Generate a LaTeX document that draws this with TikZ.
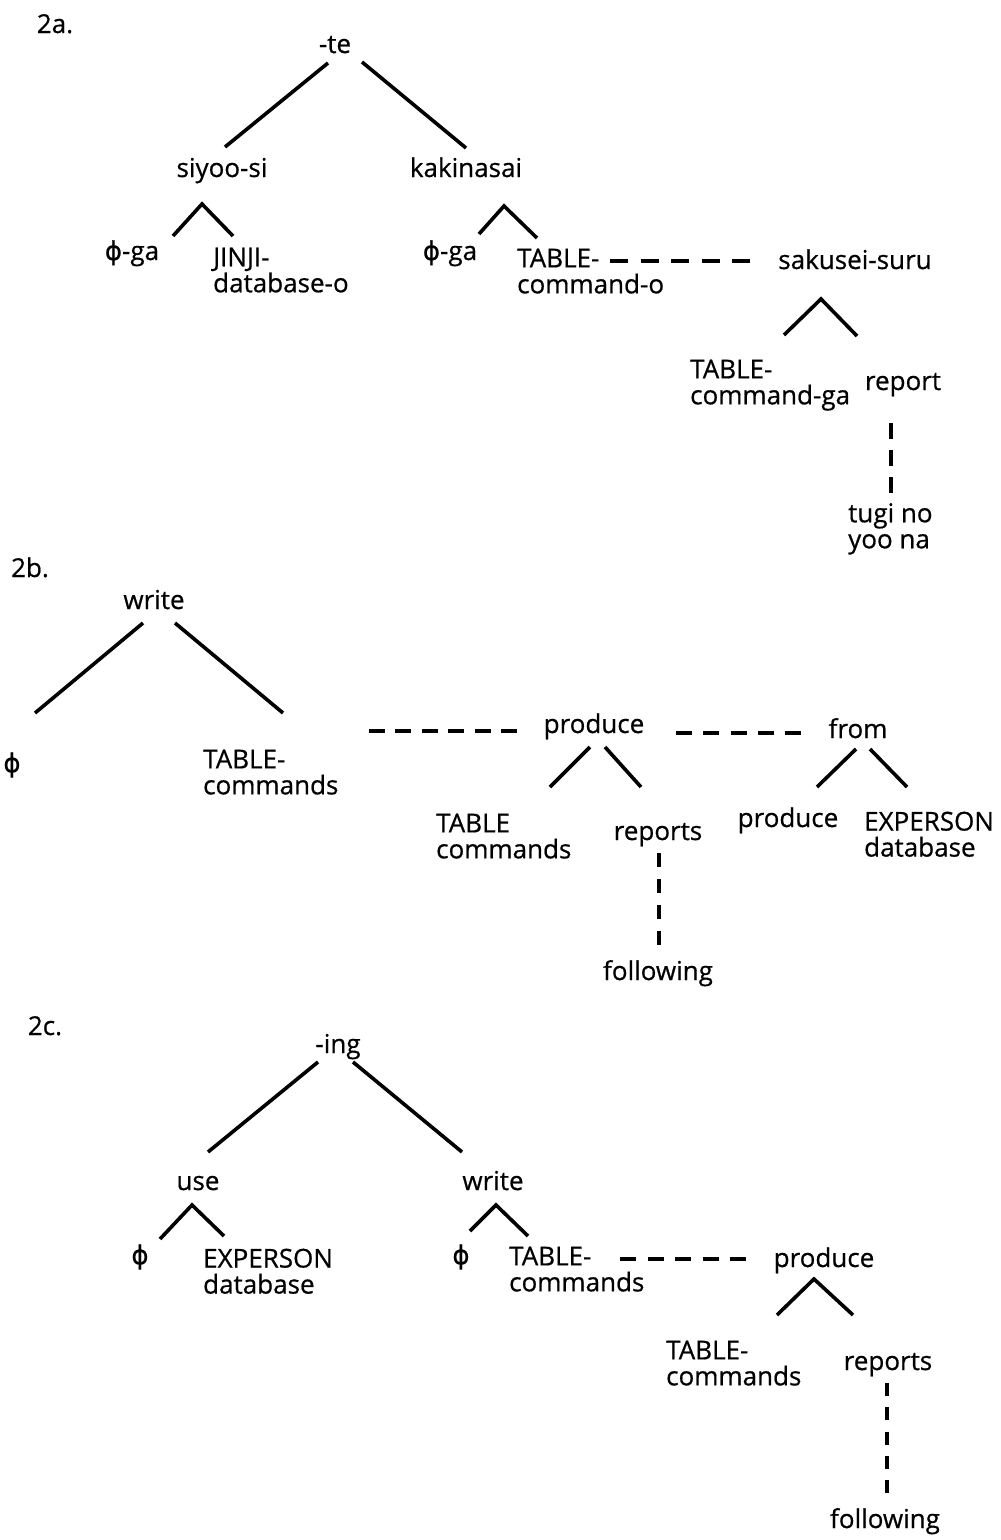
\documentclass[tikz,border=0pt]{standalone}
\usepackage{fontspec}
\setmainfont{Open Sans}[FakeBold=0.6]
\newfontfamily\phifont{DejaVu Sans}[FakeBold=0.6]
\newcommand{\phisym}{{\phifont ϕ}}
\begin{document}
\begin{tikzpicture}[x=1pt,y=-1pt,
  lbl/.style={inner sep=0pt, font=\fontsize{26}{26}\selectfont, anchor=base},
  phil/.style={inner sep=0pt, font=\fontsize{26}{26}\selectfont, anchor=center},
  mlbl/.style={inner sep=0pt, font=\fontsize{26}{26}\selectfont, align=left, anchor=north west},
  branch/.style={line width=3.6pt, line cap=butt},
  hdash/.style={line width=3.6pt},
  vdash/.style={line width=3.6pt}]
\useasboundingbox (0,0) rectangle (1001,1540);

% ---------- 2a ----------
\node[lbl] (lab2a) at (55,33) {2a.};
\node[lbl] (te) at (335,53) {-te};
\node[lbl] (siyoo) at (222,177) {siyoo-si};
\node[lbl] (kaki) at (466,177) {kakinasai};
\node[lbl] (gaA) at (132,260) {\phisym-ga};
\node[mlbl] (jinji) at (213,247.5) {JINJI-\\database-o};
\node[lbl] (gaB) at (450,260) {\phisym-ga};
\node[mlbl] (tcmdo) at (517,248.5) {TABLE-\\command-o};
\node[lbl] (sakusei) at (855,269) {sakusei-suru};
\node[mlbl] (tcmdga) at (690,359.5) {TABLE-\\command-ga};
\node[lbl] (report) at (903,390) {report};
\node[mlbl] (tugi) at (848,503) {tugi no\\yoo na};

\coordinate (te-l) at (328,63);   \coordinate (siyoo-t) at (225,147);
\coordinate (te-r) at (362,62);   \coordinate (kaki-t) at (466,148);
\coordinate (siyoo-a) at (202,204); \coordinate (gaA-t) at (173,236); \coordinate (jinji-t) at (233,236);
\coordinate (kaki-a) at (504,206);  \coordinate (gaB-t) at (479,234); \coordinate (tcmdo-t) at (537,238);
\coordinate (sak-a) at (821,299);   \coordinate (tcmdga-t) at (784,335); \coordinate (report-t) at (857,336);
\coordinate (tcmdo-e) at (610,261); \coordinate (sakusei-w) at (750,261);
\coordinate (report-s) at (891,423); \coordinate (tugi-n) at (891,493);

\draw[branch] (te-l) -- (siyoo-t);
\draw[branch] (te-r) -- (kaki-t);
\draw[branch] (gaA-t) -- (siyoo-a) -- (jinji-t);
\draw[branch] (gaB-t) -- (kaki-a) -- (tcmdo-t);
\draw[branch] (tcmdga-t) -- (sak-a) -- (report-t);
\draw[hdash, dash pattern=on 18pt off 12.5pt] (tcmdo-e) -- (sakusei-w);
\draw[vdash, dash pattern=on 16pt off 11pt] (report-s) -- (tugi-n);

% ---------- 2b ----------
\node[lbl] (lab2b) at (30,577) {2b.};
\node[lbl] (writeB) at (154,609) {write};
\node[phil] (phiB) at (12,765) {\phisym};
\node[mlbl] (tcmdsB) at (203,749.5) {TABLE-\\commands};
\node[lbl] (produceB) at (594,733) {produce};
\node[lbl] (fromB) at (858,738) {from};
\node[mlbl] (tcmdsB2) at (436,813.5) {TABLE\\commands};
\node[lbl] (reportsB) at (658,840) {reports};
\node[lbl] (followingB) at (658,980) {following};
\node[lbl] (produceB2) at (788,827) {produce};
\node[mlbl] (expersonB) at (864,811.5) {EXPERSON\\database};

\coordinate (writeB-l) at (143,623); \coordinate (phiB-t) at (35,713);
\coordinate (writeB-r) at (175,623); \coordinate (tcmdsB-t) at (283,713);
\coordinate (tcmdsB-e) at (369,731); \coordinate (produceB-w) at (517,731);
\coordinate (produceB-e) at (676,733); \coordinate (fromB-w) at (801,733);
\coordinate (produceB-l) at (590,747); \coordinate (tcmdsB2-t) at (550,787);
\coordinate (produceB-r) at (605,747); \coordinate (reportsB-t) at (641,787);
\coordinate (fromB-l) at (856,749); \coordinate (produceB2-t) at (817,787);
\coordinate (fromB-r) at (870,749); \coordinate (expersonB-t) at (907,787);
\coordinate (reportsB-s) at (659,853); \coordinate (followingB-n) at (659,945);

\draw[branch] (writeB-l) -- (phiB-t);
\draw[branch] (writeB-r) -- (tcmdsB-t);
\draw[hdash, dash pattern=on 16pt off 10.4pt] (tcmdsB-e) -- (produceB-w);
\draw[hdash, dash pattern=on 16pt off 11.25pt] (produceB-e) -- (fromB-w);
\draw[branch] (produceB-l) -- (tcmdsB2-t);
\draw[branch] (produceB-r) -- (reportsB-t);
\draw[branch] (fromB-l) -- (produceB2-t);
\draw[branch] (fromB-r) -- (expersonB-t);
\draw[vdash, dash pattern=on 14pt off 12pt] (reportsB-s) -- (followingB-n);

% ---------- 2c ----------
\node[lbl] (lab2c) at (45,1035) {2c.};
\node[lbl] (ing) at (338,1053) {-ing};
\node[lbl] (use) at (198,1190) {use};
\node[lbl] (writeC) at (493,1190) {write};
\node[phil] (phiC1) at (140,1257) {\phisym};
\node[mlbl] (expersonC) at (203,1248.5) {EXPERSON\\database};
\node[phil] (phiC2) at (461,1257) {\phisym};
\node[mlbl] (tcmdsC) at (509,1246.5) {TABLE-\\commands};
\node[lbl] (produceC) at (824,1267) {produce};
\node[mlbl] (tcmdsC2) at (666,1340.5) {TABLE-\\commands};
\node[lbl] (reportsC) at (888,1370) {reports};
\node[lbl] (followingC) at (885,1528) {following};

\coordinate (ing-l) at (318,1062); \coordinate (use-t) at (208,1152);
\coordinate (ing-r) at (353,1062); \coordinate (writeC-t) at (462,1152);
\coordinate (use-a) at (192,1205); \coordinate (phiC1-t) at (160,1239); \coordinate (expersonC-t) at (224,1236);
\coordinate (writeC-a) at (496,1205); \coordinate (phiC2-t) at (470,1231); \coordinate (tcmdsC-t) at (528,1236);
\coordinate (tcmdsC-e) at (620,1259); \coordinate (produceC-w) at (746,1259);
\coordinate (produceC-a) at (814,1279); \coordinate (tcmdsC2-t) at (777,1315); \coordinate (reportsC-t) at (853,1315);
\coordinate (reportsC-s) at (887,1383); \coordinate (followingC-n) at (887,1493);

\draw[branch] (ing-l) -- (use-t);
\draw[branch] (ing-r) -- (writeC-t);
\draw[branch] (phiC1-t) -- (use-a) -- (expersonC-t);
\draw[branch] (phiC2-t) -- (writeC-a) -- (tcmdsC-t);
\draw[hdash, dash pattern=on 16pt off 11.5pt] (tcmdsC-e) -- (produceC-w);
\draw[branch] (tcmdsC2-t) -- (produceC-a) -- (reportsC-t);
\draw[vdash, dash pattern=on 13pt off 11.25pt] (reportsC-s) -- (followingC-n);
\end{tikzpicture}
\end{document}
